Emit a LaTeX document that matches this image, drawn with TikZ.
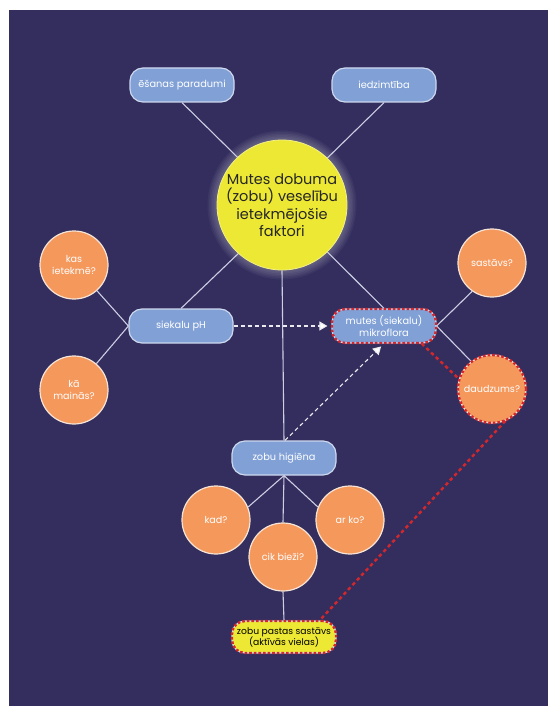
\documentclass[tikz,border=0pt]{standalone}
\usepackage{fontspec}
\setmainfont{Poppins}
\usetikzlibrary{arrows.meta}
\definecolor{bgc}{RGB}{51,46,94}
\definecolor{boxc}{RGB}{128,160,214}
\definecolor{boxb}{RGB}{205,215,238}
\definecolor{orc}{RGB}{245,152,92}
\definecolor{orb}{RGB}{245,228,215}
\definecolor{yelc}{RGB}{236,232,52}
\definecolor{redc}{RGB}{210,40,45}
\definecolor{linec}{RGB}{205,205,228}
\pgfdeclarelayer{bg}
\pgfsetlayers{bg,main}
\tikzset{
  bluebox/.style={rectangle, rounded corners=13pt, fill=boxc, draw=boxb, line width=1.2pt,
    minimum width=104pt, minimum height=34pt, text=white, font=\fontsize{9.8}{11.5}\selectfont, align=center, inner sep=1pt},
  orcirc/.style={circle, fill=orc, draw=orb, line width=1.2pt, minimum size=68pt,
    text=white, font=\fontsize{9.6}{11.5}\selectfont, align=center, inner sep=1pt},
  reddash/.style={postaction={draw=redc, line width=2.4pt, dash pattern=on 2.6pt off 2pt}},
  conn/.style={draw=linec, line width=1.1pt},
  dasharrow/.style={draw=white!90!bgc, line width=1.1pt, dash pattern=on 4pt off 3pt,
    -{Triangle[length=8pt,width=9pt,fill=white]}, shorten >=4pt},
  redline/.style={draw=redc, line width=2.4pt, dash pattern=on 3.5pt off 3pt}
}
\begin{document}
\begin{tikzpicture}[x=1pt,y=-1pt]
\useasboundingbox (0,0) rectangle (547,706);
% nodes
\node[circle, fill=yelc, draw=yelc!60!white, line width=0.8pt, minimum size=130pt, align=center,
  font=\fontsize{14.5}{17.5}\selectfont, text=black!85, inner sep=0pt] (big) at (282,205)
  {Mutes dobuma\\(zobu) veselību\\ietekmējošie\\faktori};
\node[bluebox] (ed) at (182,85) {ēšanas paradumi};
\node[bluebox] (iedz) at (384,85) {iedzimtība};
\node[bluebox] (ph) at (181,326) {siekalu pH};
\node[bluebox, reddash] (mutes) at (384,326) {mutes (siekalu)\\mikroflora};
\node[bluebox] (hig) at (284,458) {zobu higiēna};
\node[bluebox, fill=yelc, text=black, reddash, minimum height=32pt, font=\fontsize{9.2}{11}\selectfont] (pastas) at (284,637)
  {zobu pastas sastāvs\\(aktīvās vielas)};
\node[orcirc] (kas) at (74,265) {kas\\ietekmē?};
\node[orcirc] (ka) at (74,390) {kā\\mainās?};
\node[orcirc] (sast) at (492,263) {sastāvs?};
\node[orcirc, reddash] (daud) at (492,389) {daudzums?};
\node[orcirc] (kad) at (216,520) {kad?};
\node[orcirc] (arko) at (350,520) {ar ko?};
\node[orcirc] (cik) at (283,557) {cik bieži?};
\begin{pgfonlayer}{bg}
\fill[white] (-10,-10) rectangle (560,720);
\fill[bgc] (9,10) rectangle (560,720);
\foreach \r in {65.5,67,...,74.5}
  \fill[white, opacity=0.045] (big.center) circle[radius=\r];
\draw[conn] (ed.south) -- (big.133);
\draw[conn] (iedz.south) -- (big.46);
\draw[conn] (ph.north) -- (big.228);
\draw[conn] (mutes.north) -- (big.314);
\draw[conn] (big.south) -- (hig.north);
\draw[conn] (kas) -- (ph.west);
\draw[conn] (ka) -- (ph.west);
\draw[conn] (mutes.east) -- (sast.235);
\draw[conn] (mutes.east) -- (daud.127);
\draw[conn] (hig.south) -- (kad.22);
\draw[conn] (hig.south) -- (arko.158);
\draw[conn] (hig.south) -- (cik.north);
\draw[conn] (cik.south) -- (pastas.north);
\end{pgfonlayer}
\draw[dasharrow] (ph.east) -- (mutes.west);
\draw[dasharrow] ([xshift=1pt]hig.north) -- (mutes.south);
\draw[redline] ([xshift=-15pt]mutes.south east) -- (daud.163);
\draw[redline] (daud.293) -- ([xshift=-17pt]pastas.north east);
\end{tikzpicture}
\end{document}
